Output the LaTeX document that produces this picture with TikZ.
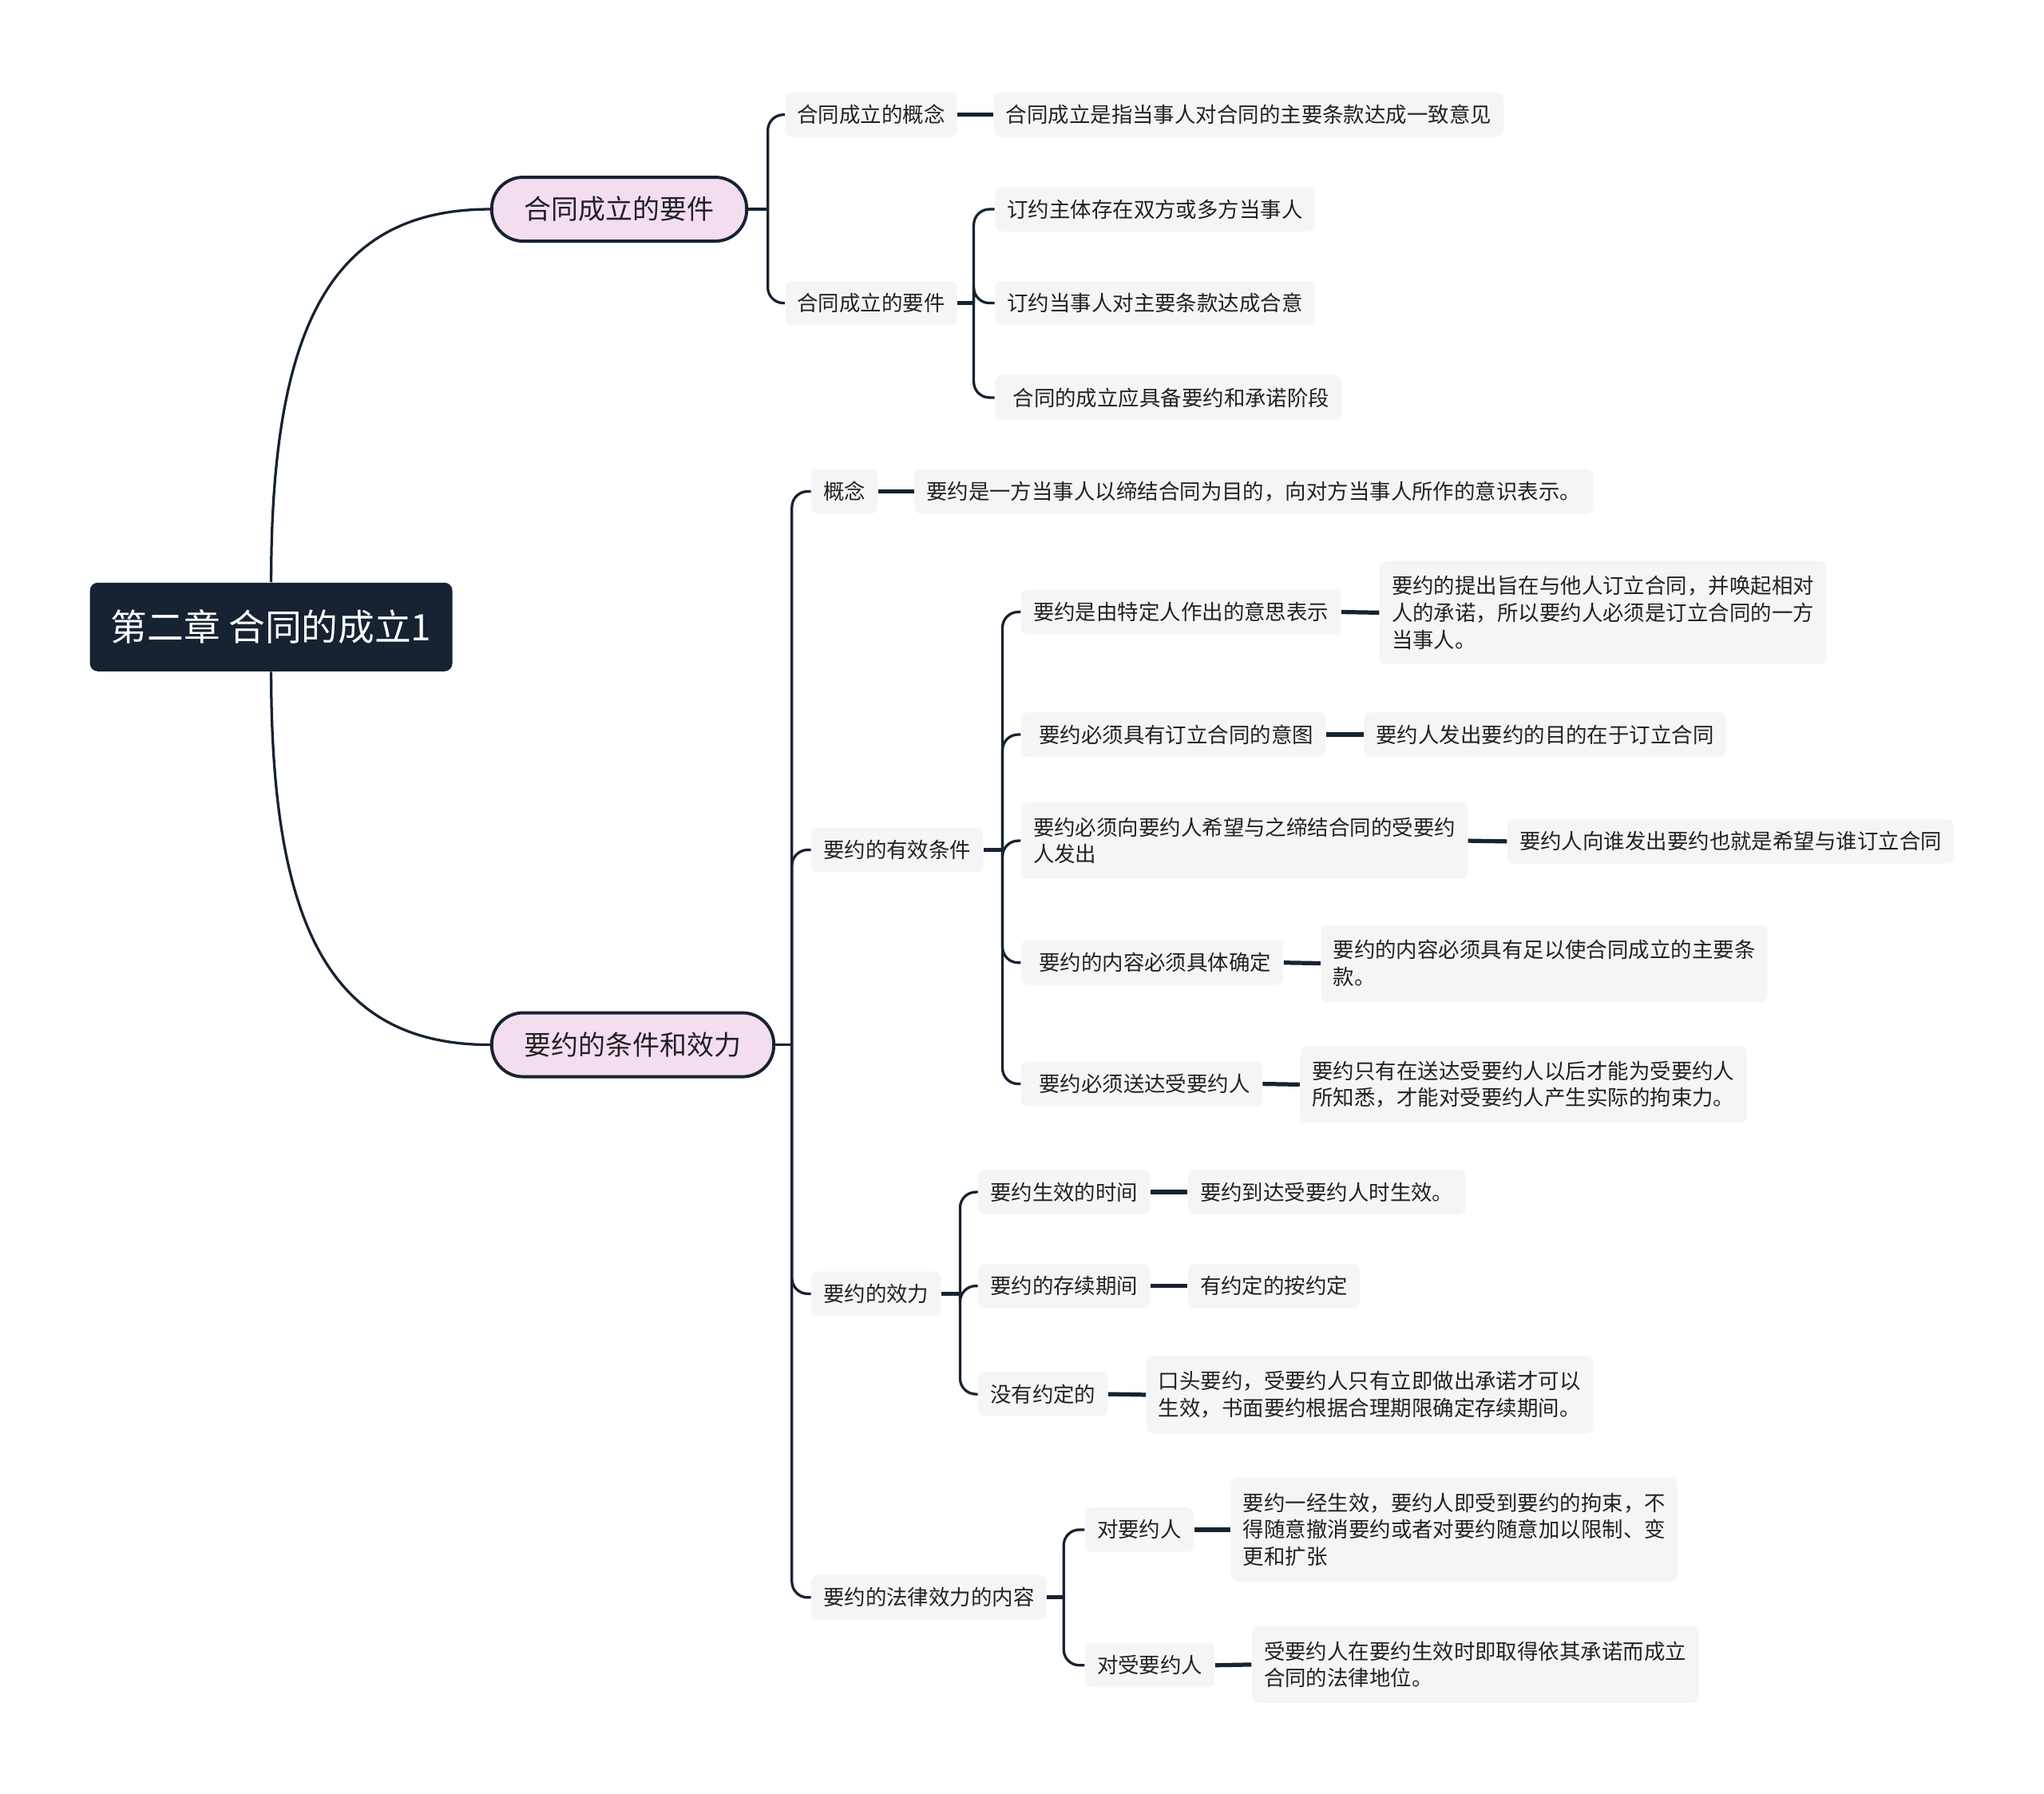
\documentclass[tikz,border=0pt]{standalone}
\usepackage{fontspec}
\newfontfamily\cjk{Noto Sans CJK SC}
\usetikzlibrary{calc}
\definecolor{dark}{HTML}{172232}
\definecolor{pinkf}{HTML}{F5DDF0}
\definecolor{grayf}{HTML}{F5F5F5}
\definecolor{txt}{HTML}{222222}
\tikzset{
  base/.style={font=\cjk\fontsize{8.1}{10.3}\selectfont, text=txt, anchor=west,
    inner xsep=4.6pt, inner ysep=3pt, minimum height=17pt, rounded corners=2.5pt,
    fill=grayf, align=left},
  multi/.style={base, inner ysep=5.8pt},
  rootbox/.style={fill=dark, text=white, font=\cjk\fontsize{14}{16}\selectfont,
    minimum width=139pt, minimum height=34pt, rounded corners=3pt, inner xsep=6pt},
  pill/.style={draw=dark, line width=1.2pt, fill=pinkf, text=txt,
    font=\cjk\fontsize{10.4}{12}\selectfont, anchor=west, inner xsep=12.5pt,
    minimum height=24.5pt, rounded corners=12pt},
  conn/.style={draw=dark, line width=1pt},
  brch/.style={draw=dark, line width=1pt, rounded corners=6pt},
  leafc/.style={draw=dark, line width=1.6pt},
}
\begin{document}
\begin{tikzpicture}[x=0.5pt,y=-0.5pt]
\useasboundingbox (0,0) rectangle (1568,1376);
\fill[white] (0,0) rectangle (1568,1376);

% bracket coordinates
\coordinate (bxa) at (589,0);
\coordinate (bxa2) at (747,0);
\coordinate (bxb) at (607.5,0);
\coordinate (bxb2) at (769,0);
\coordinate (bxb3) at (736.5,0);
\coordinate (bxb4) at (816,0);

% nodes
\node[rootbox] (root) at (208,481) {第二章 合同的成立1};
\node[pill] (ta) at (376,160.5) {合同成立的要件};
\node[pill] (tb) at (376,801.5) {要约的条件和效力};

\node[base] (a1) at (602,88) {合同成立的概念};
\node[base] (a1l) at (762,88) {合同成立是指当事人对合同的主要条款达成一致意见};
\node[base] (a2) at (602,232.5) {合同成立的要件};
\node[base] (a21) at (763,160.5) {订约主体存在双方或多方当事人};
\node[base] (a22) at (763,232.5) {订约当事人对主要条款达成合意};
\node[base] (a23) at (763,305) {\hspace*{2.2pt}合同的成立应具备要约和承诺阶段};

\node[base] (b1) at (622,377) {概念};
\node[base] (b1l) at (701,377) {要约是一方当事人以缔结合同为目的，向对方当事人所作的意识表示。};
\node[base] (b2) at (622,652) {要约的有效条件};
\node[base] (b3) at (622,992.5) {要约的效力};
\node[base] (b4) at (622,1225.5) {要约的法律效力的内容};

\node[base] (b21) at (783,469.5) {要约是由特定人作出的意思表示};
\node[multi] (b21l) at (1058,470) {要约的提出旨在与他人订立合同，并唤起相对\\人的承诺，所以要约人必须是订立合同的一方\\当事人。};
\node[base] (b22) at (783,563.5) {\hspace*{2.2pt}要约必须具有订立合同的意图};
\node[base] (b22l) at (1046,563.5) {要约人发出要约的目的在于订立合同};
\node[multi] (b23) at (783,645) {要约必须向要约人希望与之缔结合同的受要约\\人发出};
\node[base] (b23l) at (1156,645.5) {要约人向谁发出要约也就是希望与谁订立合同};
\node[base] (b24) at (783,738.5) {\hspace*{2.2pt}要约的内容必须具体确定};
\node[multi] (b24l) at (1013,739) {要约的内容必须具有足以使合同成立的主要条\\款。};
\node[base] (b25) at (783,831.5) {\hspace*{2.2pt}要约必须送达受要约人};
\node[multi] (b25l) at (997,832) {要约只有在送达受要约人以后才能为受要约人\\所知悉，才能对受要约人产生实际的拘束力。};

\node[base] (b31) at (750,914.5) {要约生效的时间};
\node[base] (b31l) at (911,914.5) {要约到达受要约人时生效。};
\node[base] (b32) at (750,986.5) {要约的存续期间};
\node[base] (b32l) at (911,986.5) {有约定的按约定};
\node[base] (b33) at (750,1069.5) {没有约定的};
\node[multi] (b33l) at (879,1070) {口头要约，受要约人只有立即做出承诺才可以\\生效，书面要约根据合理期限确定存续期间。};

\node[base] (b41) at (832,1173.5) {对要约人};
\node[multi] (b41l) at (944,1173.5) {要约一经生效，要约人即受到要约的拘束，不\\得随意撤消要约或者对要约随意加以限制、变\\更和扩张};
\node[base] (b42) at (832,1277.5) {对受要约人};
\node[multi] (b42l) at (960,1277) {受要约人在要约生效时即取得依其承诺而成立\\合同的法律地位。};

% root curves
\draw[conn] (root.north) .. controls +(0,-200) and +(-120,0) .. (ta.west);
\draw[conn] (root.south) .. controls +(0,200) and +(-120,0) .. (tb.west);

% topic A
\draw[conn] (ta.east) -- (ta.east -| bxa);
\foreach \c in {a1,a2} \draw[brch] (ta.east -| bxa) |- (\c.west);
\draw[leafc] (a1.east) -- (a1l.west);
\draw[leafc] (a2.east) -- (a2.east -| bxa2);
\foreach \c in {a21,a22,a23} \draw[brch] (a2.east -| bxa2) |- (\c.west);

% topic B
\draw[conn] (tb.east) -- (tb.east -| bxb);
\foreach \c in {b1,b2,b3,b4} \draw[brch] (tb.east -| bxb) |- (\c.west);
\draw[leafc] (b1.east) -- (b1l.west);

\draw[leafc] (b2.east) -- (b2.east -| bxb2);
\foreach \c/\d in {b21/b21l,b22/b22l,b23/b23l,b24/b24l,b25/b25l} {
  \draw[brch] (b2.east -| bxb2) |- (\c.west);
  \draw[leafc] (\c.east) -- (\d.west);
}
\draw[leafc] (b3.east) -- (b3.east -| bxb3);
\foreach \c/\d in {b31/b31l,b32/b32l,b33/b33l} {
  \draw[brch] (b3.east -| bxb3) |- (\c.west);
  \draw[leafc] (\c.east) -- (\d.west);
}
\draw[leafc] (b4.east) -- (b4.east -| bxb4);
\foreach \c/\d in {b41/b41l,b42/b42l} {
  \draw[brch] (b4.east -| bxb4) |- (\c.west);
  \draw[leafc] (\c.east) -- (\d.west);
}
\end{tikzpicture}
\end{document}
